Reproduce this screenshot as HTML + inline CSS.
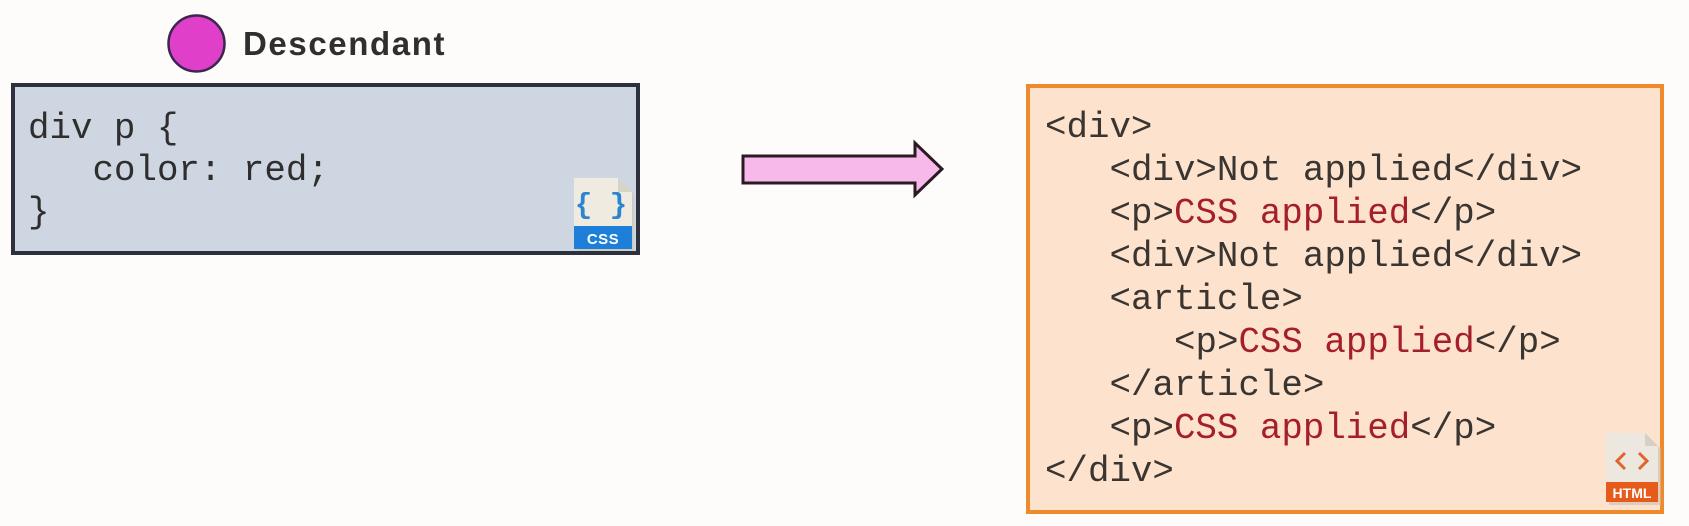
<!DOCTYPE html>
<html>
<head>
<meta charset="utf-8">
<style>
  html, body { margin:0; padding:0; background:#fdfcfa; }
  body { width:1689px; height:526px; overflow:hidden; position:relative; }
  svg { position:absolute; left:0; top:0; }
  .mono { font-family:"Liberation Mono", "DejaVu Sans Mono", monospace; font-size:35.8px; white-space:pre; }
</style>
</head>
<body>
<svg width="1689" height="526" viewBox="0 0 1689 526" xmlns="http://www.w3.org/2000/svg">
  <rect x="0" y="0" width="1689" height="526" fill="#fdfcfa"/>

  <!-- Descendant label -->
  <circle cx="196.5" cy="43.5" r="28" fill="#e03fc9" stroke="#3a2650" stroke-width="2.5"/>
  <text x="243" y="55" font-family="Liberation Sans, Arial, sans-serif" font-weight="bold" font-size="33" letter-spacing="1.6" fill="#2f2f2f">Descendant</text>

  <!-- CSS box -->
  <rect x="13" y="85" width="625" height="168" fill="#ced6e1" stroke="#2c313c" stroke-width="4"/>
  <g class="mono" fill="#2e2e2e">
    <text x="28" y="138">div p {</text>
    <text x="92.5" y="180">color: red;</text>
    <text x="28" y="222">}</text>
  </g>

  <!-- CSS file icon -->
  <g>
    <path d="M577 180 H620 L634 194 V251 H577 Z" fill="#c9c4b8" opacity="0.6"/>
    <path d="M574 178 H618 L632 192 V249 H574 Z" fill="#efebe1"/>
    <path d="M618 178 L632 192 H618 Z" fill="#d8d3c7"/>
    <rect x="574" y="226" width="58" height="23" fill="#1d7fd8"/>
    <text x="603" y="244" text-anchor="middle" font-family="Liberation Sans, Arial, sans-serif" font-size="15" font-weight="bold" fill="#ffffff" letter-spacing="0.5">CSS</text>
    <text x="601" y="213" text-anchor="middle" font-family="Liberation Mono, monospace" font-size="29" font-weight="bold" fill="#2a86d0" style="white-space:pre">{ }</text>
  </g>

  <!-- Arrow -->
  <polygon points="743,156 915,156 915,143 942,169 915,195 915,183 743,183" fill="#f6b9e9" stroke="#2a1a24" stroke-width="3" stroke-linejoin="miter"/>

  <!-- HTML box -->
  <rect x="1028" y="86" width="634" height="426" fill="#fde2cd" stroke="#ee8a2c" stroke-width="4"/>
  <g class="mono" fill="#3a3530">
    <text x="1045" y="137">&lt;div&gt;</text>
    <text x="1109.5" y="180">&lt;div&gt;Not applied&lt;/div&gt;</text>
    <text x="1109.5" y="223">&lt;p&gt;<tspan fill="#a51f2b">CSS applied</tspan>&lt;/p&gt;</text>
    <text x="1109.5" y="266">&lt;div&gt;Not applied&lt;/div&gt;</text>
    <text x="1109.5" y="309">&lt;article&gt;</text>
    <text x="1174" y="352">&lt;p&gt;<tspan fill="#a51f2b">CSS applied</tspan>&lt;/p&gt;</text>
    <text x="1109.5" y="395">&lt;/article&gt;</text>
    <text x="1109.5" y="438">&lt;p&gt;<tspan fill="#a51f2b">CSS applied</tspan>&lt;/p&gt;</text>
    <text x="1045" y="481">&lt;/div&gt;</text>
  </g>

  <!-- HTML file icon -->
  <g>
    <path d="M1609 436 H1648 L1661 449 V505 H1609 Z" fill="#c9beb0" opacity="0.6"/>
    <path d="M1606 433 H1645 L1658 446 V502 H1606 Z" fill="#ece8e0"/>
    <path d="M1645 433 L1658 446 H1645 Z" fill="#d6d0c5"/>
    <rect x="1606" y="482" width="52" height="20" fill="#e65b1b"/>
    <text x="1632" y="498" text-anchor="middle" font-family="Liberation Sans, Arial, sans-serif" font-size="14" font-weight="bold" fill="#ffffff">HTML</text>
    <polyline points="1625,453 1617,461 1625,469" fill="none" stroke="#e0642c" stroke-width="3"/>
    <polyline points="1639,453 1647,461 1639,469" fill="none" stroke="#e0642c" stroke-width="3"/>
  </g>
</svg>
</body>
</html>
